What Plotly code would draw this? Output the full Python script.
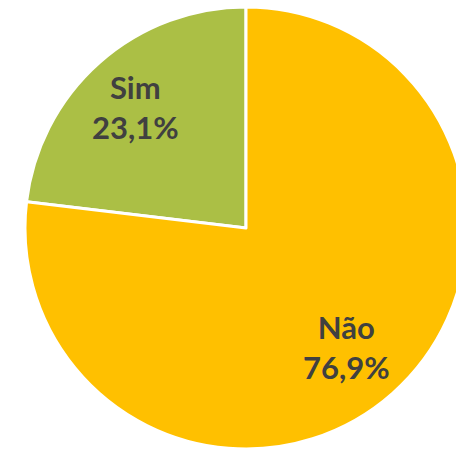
import plotly.graph_objects as go

labels = ["Sim", "Não"]
values = [23.1, 76.9]
pct_text = ["23,1%", "76,9%"]
colors = ["#ABBF45", "#FFC000"]
# label centres (page pixels)
label_pos = [(135, 107), (346, 347)]

# the pie runs off the right edge, so the figure is wider than the window
W, H = 476, 449
cx, cy, r = 246, 228, 221

fig = go.Figure(
    go.Pie(
        labels=labels,
        values=values,
        textinfo="none",
        marker=dict(colors=colors, line=dict(color="white", width=3)),
        sort=False,
        direction="clockwise",
        rotation=-values[0] / sum(values) * 360,
        showlegend=False,
        hoverinfo="label+percent",
        domain=dict(x=[(cx - r) / W, (cx + r) / W], y=[1 - (cy + r) / H, 1 - (cy - r) / H]),
    )
)

for lab, pct, (px, py) in zip(labels, pct_text, label_pos):
    fig.add_annotation(
        x=px / W,
        y=1 - py / H,
        xref="paper",
        yref="paper",
        text=f"<b>{lab}<br>{pct}</b>",
        showarrow=False,
        font=dict(family="Lato", size=31, color="#404040"),
        xanchor="center",
        yanchor="middle",
    )

fig.update_layout(
    width=W,
    height=H,
    margin=dict(l=0, r=0, t=0, b=0),
    paper_bgcolor="white",
)

fig.write_html(
    "out.html",
    config={"displayModeBar": False},
    post_script="document.body.style.margin='0';document.body.style.overflow='hidden';",
)
